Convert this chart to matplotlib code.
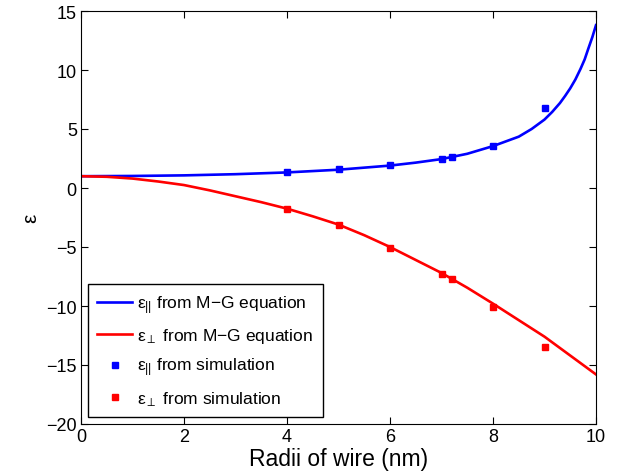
import matplotlib
matplotlib.use("Agg")
import matplotlib.pyplot as plt

plt.rcParams['font.family'] = ['Liberation Sans', 'DejaVu Sans']
plt.rcParams['mathtext.fontset'] = 'custom'
plt.rcParams['mathtext.rm'] = 'Liberation Sans'
plt.rcParams['mathtext.it'] = 'Liberation Sans'
plt.rcParams['mathtext.bf'] = 'Liberation Sans'

# M-G equation curves
curve_x_par = [0, 1, 2, 3, 4, 5, 6, 6.5, 7, 7.5, 8, 8.5, 8.75, 9, 9.15, 9.3, 9.4, 9.5, 9.6,
               9.7, 9.78, 9.85, 9.93, 10]
curve_par = [1.0, 1.02, 1.07, 1.17, 1.32, 1.55, 1.9, 2.15, 2.45, 2.9, 3.55, 4.35, 5.0, 5.8,
             6.45, 7.2, 7.8, 8.45, 9.2, 10.1, 10.9, 11.8, 12.8, 13.8]

curve_x_perp = [0, 0.5, 1, 1.5, 2, 2.5, 3, 3.5, 4, 4.5, 5, 5.5, 6, 6.5, 7, 7.5, 8, 8.5, 9, 9.5, 10]
curve_perp = [1.0, 0.95, 0.8, 0.55, 0.25, -0.2, -0.7, -1.2, -1.75, -2.4, -3.1, -4.0, -5.0, -6.1,
              -7.2, -8.45, -9.8, -11.2, -12.6, -14.2, -15.8]

# simulation points
sim_x = [4, 5, 6, 7, 7.2, 8, 9]
sim_par = [1.35, 1.6, 1.95, 2.5, 2.65, 3.6, 6.75]
sim_perp = [-1.75, -3.1, -5.05, -7.25, -7.75, -10.05, -13.45]

xticks = [0, 2, 4, 6, 8, 10]
yticks = [-20, -15, -10, -5, 0, 5, 10, 15]

fig = plt.figure(figsize=(6.23, 4.77), dpi=100)
ax = fig.add_axes([81/623, 52/477, 515/623, 413/477])

ax.plot(curve_x_par, curve_par, color=(0, 0, 1), lw=1.9, solid_joinstyle='round',
        label=r'$\varepsilon_{||}$ from M−G equation')
ax.plot(curve_x_perp, curve_perp, color=(1, 0, 0), lw=1.9, solid_joinstyle='round',
        label=r'$\varepsilon_{\perp}$ from M−G equation')
ax.plot(sim_x, sim_par, ls='none', marker='s', ms=5, color=(0, 0, 1),
        label=r'$\varepsilon_{||}$ from simulation')
ax.plot(sim_x, sim_perp, ls='none', marker='s', ms=5, color=(1, 0, 0),
        label=r'$\varepsilon_{\perp}$ from simulation')

ax.set_xlim(0, 10)
ax.set_ylim(-20, 15)
ax.set_xticks(xticks)
ax.set_yticks(yticks)
ax.set_yticklabels([str(v).replace('-', '−') for v in yticks])
ax.tick_params(direction='in', top=True, right=True, labelsize=13, length=5, width=0.8, pad=3)
for s in ax.spines.values():
    s.set_linewidth(0.8)

ax.set_xlabel('Radii of wire (nm)', fontsize=16.5, labelpad=1)
ax.set_ylabel('ε', fontsize=15, labelpad=4)

leg = ax.legend(loc='lower left', fontsize=12.5, numpoints=1, fancybox=False,
                framealpha=1, edgecolor='black', handlelength=2.0,
                borderaxespad=0.4, labelspacing=0.6, handletextpad=0.3,
                borderpad=0.55)
leg.get_frame().set_linewidth(1.0)

fig.savefig('out.png', dpi=100)
